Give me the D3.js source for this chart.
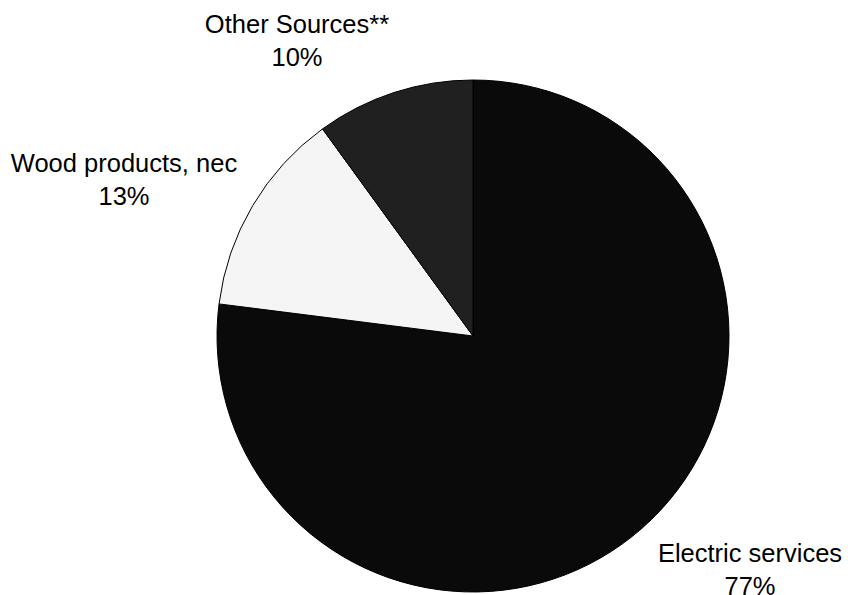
<!DOCTYPE html>
<html>
<head>
<meta charset="utf-8">
<script src="https://cdn.jsdelivr.net/npm/d3@7"></script>
<style>
  html, body { margin: 0; padding: 0; background: #fff; }
  svg { display: block; }
</style>
</head>
<body>
<svg id="chart" width="848" height="595"></svg>
<script>
const categories = ["Electric services", "Wood products, nec", "Other Sources**"];
const values = [77, 13, 10];
const valueLabels = ["77%", "13%", "10%"];
const colors = ["#0a0a0a", "#f5f5f5", "#202020"];

const svg = d3.select("#chart");
const cx = 473, cy = 336, r = 256;

const data = categories.map((c, i) => ({ name: c, value: values[i], label: valueLabels[i], color: colors[i] }));

const pie = d3.pie().value(d => d.value).sort(null).startAngle(0).endAngle(2 * Math.PI);
const arc = d3.arc().innerRadius(0).outerRadius(r);

const g = svg.append("g").attr("transform", `translate(${cx},${cy})`);
g.selectAll("path")
  .data(pie(data))
  .join("path")
  .attr("d", arc)
  .attr("fill", d => d.data.color)
  .attr("stroke", "#000")
  .attr("stroke-width", 1);

// label positions (centers of the two-line labels, baseline of first line)
const labelPos = [
  { x: 750, y: 562 },
  { x: 124, y: 172 },
  { x: 297, y: 33 }
];

const lab = svg.append("g")
  .attr("font-family", "Liberation Sans, Arial, sans-serif")
  .attr("font-size", "25.5px")
  .attr("fill", "#000")
  .attr("text-anchor", "middle");

data.forEach((d, i) => {
  const t = lab.append("text").attr("x", labelPos[i].x).attr("y", labelPos[i].y);
  t.append("tspan").attr("x", labelPos[i].x).text(d.name);
  t.append("tspan").attr("x", labelPos[i].x).attr("dy", 33).text(d.label);
});
</script>
</body>
</html>
